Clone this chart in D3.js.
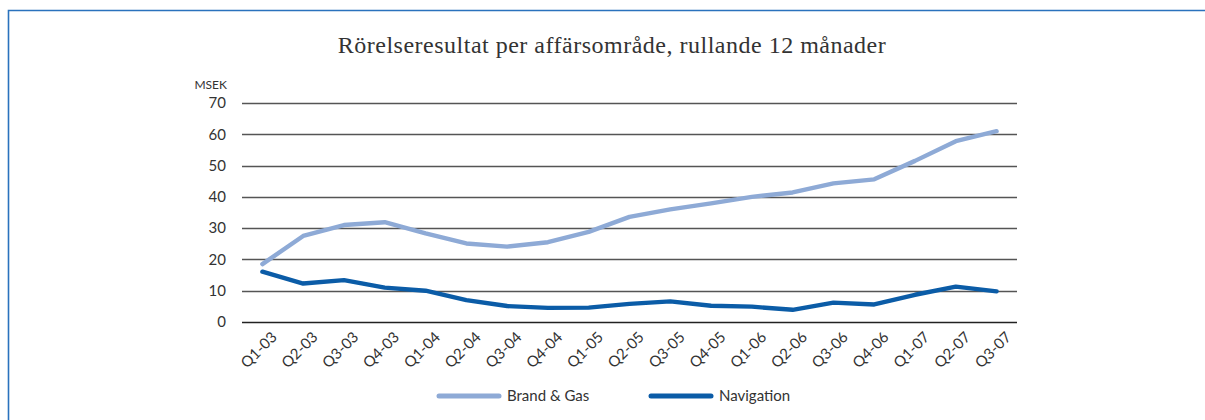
<!DOCTYPE html>
<html>
<head>
<meta charset="utf-8">
<title>Rörelseresultat per affärsområde</title>
<script src="https://d3js.org/d3.v7.min.js"></script>
<style>
  body { margin: 0; background: #fff; }
  svg { display: block; }
</style>
</head>
<body>
<div id="wrapper"></div>
<script>
const quarters = ["Q1-03","Q2-03","Q3-03","Q4-03","Q1-04","Q2-04","Q3-04","Q4-04","Q1-05","Q2-05",
                  "Q3-05","Q4-05","Q1-06","Q2-06","Q3-06","Q4-06","Q1-07","Q2-07","Q3-07"];
const brandGas = [18.5,27.5,31,31.9,28.3,25.1,24.1,25.5,28.8,33.6,36,37.9,40,41.4,44.3,45.6,51.5,57.8,61];
const navigation = [16.1,12.3,13.4,11,10,7,5.1,4.5,4.6,5.8,6.6,5.2,4.9,3.9,6.2,5.6,8.7,11.3,9.8];
const yTicks = [0,10,20,30,40,50,60,70];

const seriesList = [
  { name: "Brand & Gas", values: brandGas, color: "#8eaad6" },
  { name: "Navigation", values: navigation, color: "#0b5ca7" }
];

const dimensions = {
  width: 1205, height: 420,
  margin: { top: 103, right: 188, bottom: 98, left: 242 }
};
dimensions.boundedWidth = dimensions.width - dimensions.margin.left - dimensions.margin.right;
dimensions.boundedHeight = dimensions.height - dimensions.margin.top - dimensions.margin.bottom;

const sans = "Lato, 'Open Sans', sans-serif";

const wrapper = d3.select("#wrapper").append("svg")
  .attr("width", dimensions.width).attr("height", dimensions.height);

// blue frame
wrapper.append("path")
  .attr("d", "M8.5,420 L8.5,10.5 L1205,10.5")
  .attr("fill", "none").attr("stroke", "#2a72bd").attr("stroke-width", 1.6);

wrapper.append("text")
  .attr("x", 612).attr("y", 53)
  .attr("text-anchor", "middle")
  .style("font-family", "'Liberation Serif', serif")
  .style("font-size", "24px")
  .style("letter-spacing", "0.5px")
  .style("fill", "#333")
  .text("Rörelseresultat per affärsområde, rullande 12 månader");

const bounds = wrapper.append("g")
  .attr("transform", `translate(${dimensions.margin.left},${dimensions.margin.top})`);

const xScale = d3.scalePoint().domain(quarters).range([0, dimensions.boundedWidth]).padding(0.5);
const yScale = d3.scaleLinear().domain([0, 70]).range([dimensions.boundedHeight, 0]);

// grid lines
bounds.append("g").selectAll("line").data(yTicks).join("line")
  .attr("x1", 0).attr("x2", dimensions.boundedWidth)
  .attr("y1", d => Math.round(yScale(d)) + 0.5).attr("y2", d => Math.round(yScale(d)) + 0.5)
  .attr("stroke", d => d === 0 ? "#222" : "#555")
  .attr("stroke-width", 1.3);

// y axis labels
const yAxis = bounds.append("g")
  .call(d3.axisLeft(yScale).tickValues(yTicks).tickSize(0).tickPadding(16));
yAxis.select(".domain").remove();
yAxis.selectAll("text")
  .style("font-family", sans).style("font-size", "15px").style("fill", "#333");

bounds.append("text")
  .attr("x", -15).attr("y", -14)
  .attr("text-anchor", "end")
  .style("font-family", sans).style("font-size", "12px").style("fill", "#333")
  .text("MSEK");

// x axis labels
const xAxis = bounds.append("g")
  .attr("transform", `translate(0,${dimensions.boundedHeight})`)
  .call(d3.axisBottom(xScale).tickSize(0).tickPadding(0));
xAxis.select(".domain").remove();
xAxis.selectAll("text")
  .attr("text-anchor", "end")
  .attr("dy", 0)
  .attr("transform", "translate(15,16) rotate(-45)")
  .style("font-family", sans).style("font-size", "15px").style("fill", "#333");

// lines
const lineGenerator = d3.line()
  .x((d, i) => xScale(quarters[i]))
  .y(d => yScale(d));

bounds.selectAll(".series").data(seriesList).join("path")
  .attr("class", "series")
  .attr("d", d => lineGenerator(d.values))
  .attr("fill", "none")
  .attr("stroke", d => d.color)
  .attr("stroke-width", 4.4)
  .attr("stroke-linejoin", "round")
  .attr("stroke-linecap", "round");

// legend
const legendX = [437, 649];
const legend = wrapper.append("g").selectAll("g").data(seriesList).join("g")
  .attr("transform", (d, i) => `translate(${legendX[i]},396)`);
legend.append("line")
  .attr("x1", 2).attr("x2", 62).attr("y1", 0).attr("y2", 0)
  .attr("stroke", d => d.color).attr("stroke-width", 5).attr("stroke-linecap", "round");
legend.append("text")
  .attr("x", 70).attr("y", 5)
  .style("font-family", sans).style("font-size", "15px").style("fill", "#333")
  .text(d => d.name);
</script>
</body>
</html>
